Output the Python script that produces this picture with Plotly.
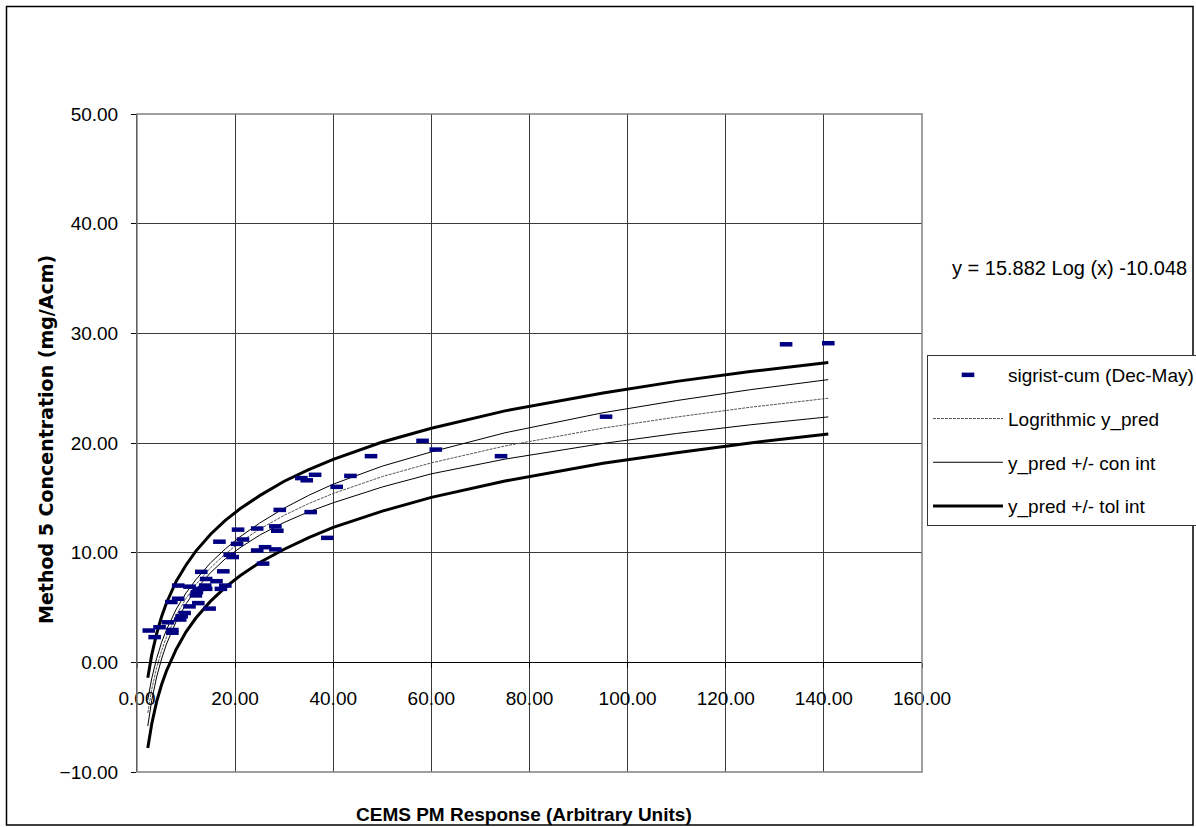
import plotly.graph_objects as go

# ---------------- data ----------------
pm_response = [2.4, 3.6, 4.6, 6.3, 7.2, 7.2, 7.0, 8.4, 8.4, 8.8, 9.1, 9.7, 10.7, 10.7,
               12.0, 12.2, 12.5, 12.6, 13.1, 13.9, 14.1, 14.1, 14.8, 16.2, 16.8, 17.1,
               17.6, 18.0, 18.9, 19.5, 20.4, 20.6, 21.6, 24.5, 24.5, 25.7, 26.1, 28.2,
               28.6, 28.2, 29.1, 33.5, 34.6, 36.3, 35.4, 38.8, 40.7, 43.5, 47.7, 58.2,
               60.9, 74.2, 95.6, 132.3, 140.9]
m5_conc = [2.9, 2.3, 3.2, 3.65, 2.95, 2.7, 5.5, 5.8, 7.0, 3.9, 4.2, 4.5, 5.1, 6.9,
           6.1, 6.4, 5.4, 6.7, 8.25, 7.0, 6.7, 7.6, 4.9, 7.4, 11.0, 6.7,
           8.3, 7.0, 9.8, 9.6, 10.8, 12.1, 11.2, 12.2, 10.2, 9.0, 10.5, 12.4,
           12.0, 10.3, 13.9, 16.8, 16.6, 17.1, 13.7, 11.35, 16.0, 17.0, 18.8, 20.2,
           19.4, 18.8, 22.4, 29.0, 29.1]

curve_x = [2.2, 3, 4, 5, 6, 8, 10, 12, 15, 18, 21, 25, 30, 35, 40, 50, 60, 75,
           95, 110, 125, 140.9]
y_pred = [-4.61, -2.47, -0.49, 1.05, 2.31, 4.30, 5.83, 7.09, 8.63, 9.89, 10.95,
          12.15, 13.41, 14.48, 15.40, 16.94, 18.19, 19.73, 21.36, 22.37, 23.26, 24.08]
con_upper = [-3.41, -1.47, 0.36, 1.80, 2.96, 4.85, 6.33, 7.54, 9.08, 10.34, 11.45,
             12.70, 14.06, 15.23, 16.25, 17.89, 19.19, 20.93, 22.76, 23.87, 24.86, 25.78]
con_lower = [-5.81, -3.47, -1.34, 0.30, 1.66, 3.75, 5.33, 6.64, 8.18, 9.44, 10.45,
             11.60, 12.76, 13.73, 14.55, 15.99, 17.19, 18.53, 19.96, 20.87, 21.66, 22.38]
tol_upper = [-1.41, 0.68, 2.61, 4.15, 5.41, 7.40, 8.88, 10.14, 11.68, 12.94, 14.00,
             15.20, 16.51, 17.58, 18.50, 20.09, 21.34, 22.93, 24.56, 25.62, 26.51, 27.33]
tol_lower = [-7.81, -5.62, -3.59, -2.05, -0.79, 1.20, 2.78, 4.04, 5.58, 6.84, 7.90,
             9.10, 10.31, 11.38, 12.30, 13.79, 15.04, 16.53, 18.16, 19.12, 20.01, 20.83]

x_range = [0, 160]
y_range = [-10, 50]
x_ticks = [0, 20, 40, 60, 80, 100, 120, 140, 160]
y_ticks = [-10, 0, 10, 20, 30, 40, 50]

equation_text = "y = 15.882 Log (x) -10.048"
x_title = "CEMS PM Response (Arbitrary Units)"
y_title = "Method 5 Concentration (mg/Acm)"

# ---------------- layout geometry ----------------
W, H = 1196, 827
L, R, T, B = 137, 922, 114, 772  # plot area in pixels


def px_x(p):
    return (p - L) / (R - L)


def px_y(p):
    return (B - p) / (B - T)


FONT = "Liberation Sans, Arial, sans-serif"

fig = go.Figure()

# tolerance interval
fig.add_trace(go.Scatter(x=curve_x, y=tol_upper, mode="lines", name="y_pred +/- tol int",
                         line=dict(color="black", width=3), legendgroup="tol", legendrank=4))
fig.add_trace(go.Scatter(x=curve_x, y=tol_lower, mode="lines", name="y_pred +/- tol int",
                         line=dict(color="black", width=3), legendgroup="tol", showlegend=False))
# confidence interval
fig.add_trace(go.Scatter(x=curve_x, y=con_upper, mode="lines", name="y_pred +/- con int",
                         line=dict(color="black", width=1), legendgroup="con", legendrank=3))
fig.add_trace(go.Scatter(x=curve_x, y=con_lower, mode="lines", name="y_pred +/- con int",
                         line=dict(color="black", width=1), legendgroup="con", showlegend=False))
# prediction
fig.add_trace(go.Scatter(x=curve_x, y=y_pred, mode="lines", name="Logrithmic y_pred",
                         line=dict(color="#555555", width=1, dash="3px,1px"),
                         legendgroup="pred", legendrank=2))
# data
fig.add_trace(go.Scatter(x=pm_response, y=m5_conc, mode="markers", name="sigrist-cum (Dec-May)",
                         marker=dict(symbol="line-ew", size=9, color="#000080",
                                     line=dict(color="#000080", width=4.5)),
                         legendgroup="data", legendrank=1))

shapes = [
    # plot area border
    dict(type="rect", xref="paper", yref="paper", x0=0, x1=1, y0=0, y1=1,
         line=dict(color="#808080", width=1.5), layer="above"),
    # chart border
    dict(type="rect", xref="paper", yref="paper",
         x0=px_x(6.5), x1=px_x(1193), y0=px_y(825), y1=px_y(6.5),
         line=dict(color="black", width=1.5), layer="above"),
]

annotations = [
    dict(text=equation_text, xref="paper", yref="paper", x=px_x(1069), y=px_y(268),
         xanchor="center", yanchor="middle", showarrow=False,
         font=dict(family=FONT, size=20, color="black")),
    dict(text="<b>" + x_title + "</b>", xref="paper", yref="paper", x=px_x(524), y=px_y(814),
         xanchor="center", yanchor="middle", showarrow=False,
         font=dict(family=FONT, size=19, color="black")),
    dict(text="<b>" + y_title + "</b>", xref="paper", yref="paper", x=px_x(46), y=px_y(440),
         xanchor="center", yanchor="middle", showarrow=False, textangle=-90,
         font=dict(family="DejaVu Sans, sans-serif", size=19, color="black")),
]

fig.update_layout(
    width=W, height=H,
    margin=dict(l=L, r=W - R, t=T, b=H - B, autoexpand=False),
    paper_bgcolor="white", plot_bgcolor="white",
    font=dict(family=FONT, size=20, color="black"),
    showlegend=True,
    legend=dict(x=px_x(927), y=px_y(355), xanchor="left", yanchor="top",
                bordercolor="#333333", borderwidth=1, bgcolor="white",
                traceorder="grouped", tracegroupgap=16, itemwidth=70,
                font=dict(family=FONT, size=19, color="black")),
    xaxis=dict(range=x_range, tickvals=x_ticks, tickformat=".2f",
               anchor="free", position=(0 - y_range[0]) / (y_range[1] - y_range[0]),
               showgrid=True, gridcolor="#3a3a3a", gridwidth=1,
               showline=True, linecolor="black", linewidth=1,
               ticks="outside", ticklen=5, tickcolor="black",
               ticklabelstandoff=14, zeroline=False,
               tickfont=dict(family=FONT, size=19, color="black")),
    yaxis=dict(range=y_range, tickvals=y_ticks, tickformat=".2f",
               showgrid=True, gridcolor="#3a3a3a", gridwidth=1,
               showline=True, linecolor="black", linewidth=1,
               ticks="outside", ticklen=5, tickcolor="black",
               ticklabelstandoff=9, zeroline=False,
               tickfont=dict(family=FONT, size=19, color="black")),
    shapes=shapes,
    annotations=annotations,
)

fig.write_html("out.html")
